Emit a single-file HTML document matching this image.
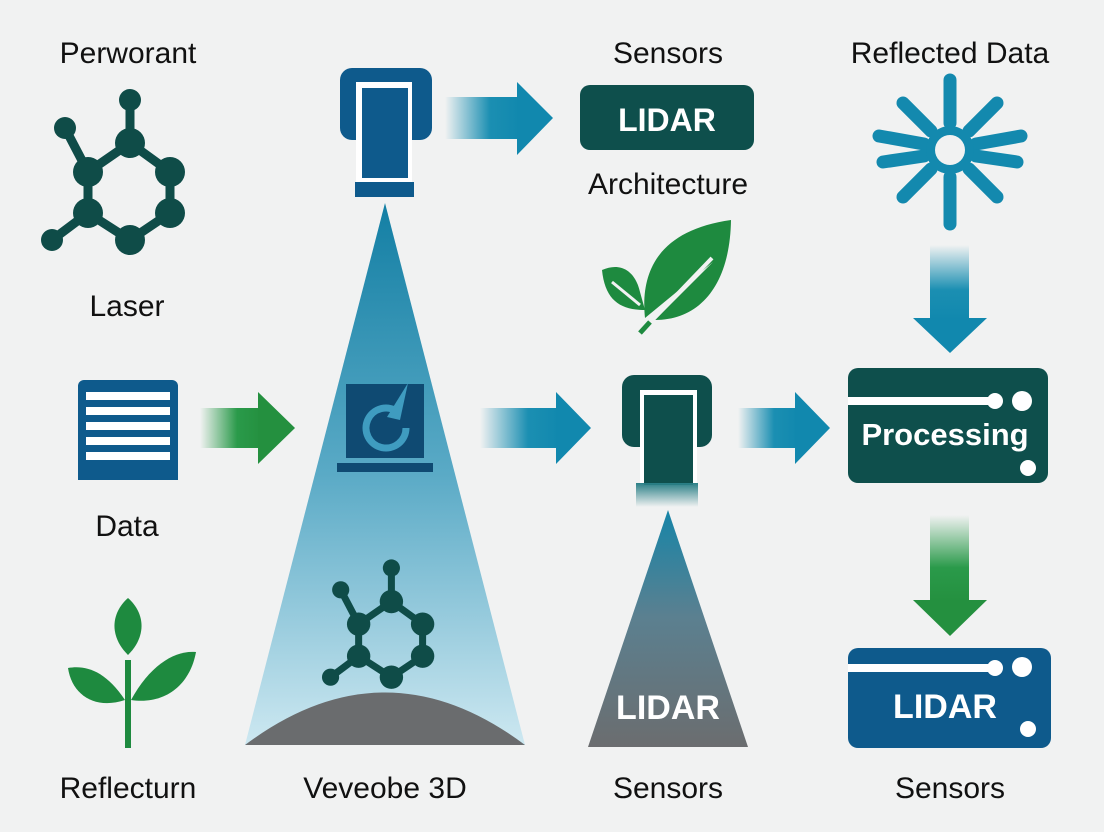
<!DOCTYPE html>
<html><head><meta charset="utf-8"><style>
html,body{margin:0;padding:0;background:#f1f2f2;}
svg{display:block}
text{font-family:"Liberation Sans","DejaVu Sans",sans-serif;}
</style></head><body>
<svg width="1104" height="832" viewBox="0 0 1104 832" xmlns="http://www.w3.org/2000/svg">
<defs>
<linearGradient id="beam" x1="0" y1="0" x2="0" y2="1"><stop offset="0" stop-color="#137fa4"/><stop offset="0.5" stop-color="#5aaac6"/><stop offset="1" stop-color="#cde8f1"/></linearGradient>
<linearGradient id="gbeam" x1="0" y1="0" x2="0" y2="1"><stop offset="0" stop-color="#1685a8"/><stop offset="0.45" stop-color="#5b8090"/><stop offset="1" stop-color="#6b6d6f"/></linearGradient>
<linearGradient id="ab" x1="0" y1="0" x2="1" y2="0"><stop offset="0" stop-color="#1b8fb2" stop-opacity="0"/><stop offset="0.6" stop-color="#1b8fb2"/><stop offset="1" stop-color="#1188ae"/></linearGradient>
<linearGradient id="ag" x1="0" y1="0" x2="1" y2="0"><stop offset="0" stop-color="#2a9a4a" stop-opacity="0"/><stop offset="0.6" stop-color="#2a9a4a"/><stop offset="1" stop-color="#24903f"/></linearGradient>
<linearGradient id="abd" x1="0" y1="0" x2="0" y2="1"><stop offset="0" stop-color="#1b8fb2" stop-opacity="0"/><stop offset="0.6" stop-color="#1b8fb2"/><stop offset="1" stop-color="#1188ae"/></linearGradient>
<linearGradient id="agd" x1="0" y1="0" x2="0" y2="1"><stop offset="0" stop-color="#2a9a4a" stop-opacity="0"/><stop offset="0.6" stop-color="#2a9a4a"/><stop offset="1" stop-color="#24903f"/></linearGradient>
<linearGradient id="bar2" x1="0" y1="0" x2="0" y2="1"><stop offset="0" stop-color="#2a7f86"/><stop offset="1" stop-color="#2a7f86" stop-opacity="0"/></linearGradient>
<g id="mol">
<g stroke="#0f4c48" stroke-width="9">
<line x1="130" y1="100" x2="130" y2="143"/><line x1="65" y1="128" x2="88" y2="172"/><line x1="52" y1="240" x2="88" y2="213"/>
<polygon points="130,143 170,172 170,213 130,240 88,213 88,172" fill="none"/>
</g>
<g fill="#0f4c48"><circle cx="130" cy="100" r="11"/><circle cx="65" cy="128" r="11"/><circle cx="52" cy="240" r="11"/>
<circle cx="130" cy="143" r="15"/><circle cx="170" cy="172" r="15"/><circle cx="170" cy="213" r="15"/><circle cx="130" cy="240" r="15"/><circle cx="88" cy="213" r="15"/><circle cx="88" cy="172" r="15"/></g>
</g>
</defs>

<g font-size="30" fill="#111" text-anchor="middle">
<text x="128" y="63">Perworant</text>
<text x="127" y="316">Laser</text>
<text x="127" y="536">Data</text>
<text x="128" y="798">Reflecturn</text>
<text x="385" y="798">Veveobe 3D</text>
<text x="668" y="63">Sensors</text>
<text x="668" y="194">Architecture</text>
<text x="950" y="63">Reflected Data</text>
<text x="668" y="798">Sensors</text>
<text x="950" y="798">Sensors</text>
</g>

<use href="#mol"/>

<rect x="340" y="68" width="92" height="72" rx="12" fill="#0e5a8c"/>
<rect x="356" y="82" width="56" height="100" fill="#fff"/>
<rect x="362" y="88" width="46" height="90" fill="#0e5a8c"/>
<rect x="355" y="182" width="59" height="15" fill="#0e5a8c"/>

<polygon points="385,203 245,745 525,745" fill="url(#beam)"/>
<path d="M245,745 Q385,640 525,745 Z" fill="#6a6c6e"/>
<rect x="346" y="384" width="78" height="74" fill="#0f4a72"/>
<rect x="337" y="463" width="96" height="9" fill="#0f4a72"/>
<path d="M398,412 A20,20 0 1 0 406,428" fill="none" stroke="#3f9cc0" stroke-width="7"/>
<polygon points="408,383 387,417 400,420" fill="#3f9cc0"/>
<g transform="translate(290,490) scale(0.78)"><use href="#mol"/></g>

<rect x="445" y="97" width="75" height="42" fill="url(#ab)"/>
<polygon points="517,82 553,118 517,155" fill="#1188ae"/>
<rect x="580" y="85" width="174" height="65" rx="10" fill="#0e4f4c"/>
<text x="667" y="131" font-size="32" font-weight="bold" fill="#fff" text-anchor="middle">LIDAR</text>

<path d="M731,220 C660,230 640,270 645,318 L713,262 L655,320 C700,320 730,285 731,220 Z" fill="#1e8a3f"/>
<path d="M602,270 C620,262 635,270 640,292 L645,310 C620,310 605,300 602,270 Z" fill="#1e8a3f"/>
<line x1="640" y1="333" x2="712" y2="258" stroke="#f1f2f2" stroke-width="4"/>
<line x1="640" y1="333" x2="650" y2="322" stroke="#1e8a3f" stroke-width="5"/>
<line x1="612" y1="282" x2="640" y2="305" stroke="#f1f2f2" stroke-width="3"/>

<rect x="78" y="380" width="100" height="100" rx="6" fill="#0e5a8c"/>
<g fill="#fff"><rect x="86" y="392" width="84" height="8"/><rect x="86" y="407" width="84" height="8"/><rect x="86" y="422" width="84" height="8"/><rect x="86" y="437" width="84" height="8"/><rect x="86" y="452" width="84" height="8"/></g>
<rect x="78" y="468" width="100" height="12" fill="#0e5a8c"/>

<rect x="200" y="408" width="62" height="40" fill="url(#ag)"/>
<polygon points="258,392 295,428 258,464" fill="#24903f"/>
<rect x="480" y="408" width="80" height="40" fill="url(#ab)"/>
<polygon points="556,392 591,428 556,464" fill="#1188ae"/>

<rect x="622" y="375" width="90" height="72" rx="12" fill="#0e4f4c"/>
<rect x="640" y="390" width="57" height="95" fill="#fff"/>
<rect x="644" y="395" width="49" height="90" fill="#0e4f4c"/>
<rect x="636" y="483" width="62" height="24" fill="url(#bar2)"/>
<polygon points="668,510 588,747 748,747" fill="url(#gbeam)"/>
<text x="668" y="719" font-size="34" font-weight="bold" fill="#fff" text-anchor="middle">LIDAR</text>

<rect x="738" y="408" width="60" height="40" fill="url(#ab)"/>
<polygon points="795,392 830,428 795,464" fill="#1188ae"/>

<g stroke="#1389ae" stroke-width="13" stroke-linecap="round">
<line x1="950" y1="123" x2="950" y2="80"/><line x1="950" y1="177" x2="950" y2="224"/>
<line x1="969" y1="131" x2="997" y2="103"/><line x1="931" y1="131" x2="903" y2="103"/>
<line x1="969" y1="169" x2="997" y2="197"/><line x1="931" y1="169" x2="903" y2="197"/>
<line x1="976" y1="144" x2="1021" y2="136"/><line x1="976" y1="156" x2="1017" y2="162"/>
<line x1="924" y1="144" x2="879" y2="136"/><line x1="924" y1="156" x2="883" y2="162"/>
</g>
<circle cx="950" cy="150" r="24" fill="#1389ae"/><circle cx="950" cy="150" r="15" fill="#f1f2f2"/>

<rect x="930" y="245" width="39" height="75" fill="url(#abd)"/>
<polygon points="913,318 987,318 950,353" fill="#1188ae"/>

<rect x="848" y="368" width="200" height="115" rx="10" fill="#0e4f4c"/>
<rect x="848" y="397" width="145" height="8" fill="#fff"/>
<circle cx="995" cy="401" r="8" fill="#fff"/><circle cx="1022" cy="401" r="10" fill="#fff"/><circle cx="1028" cy="468" r="8" fill="#fff"/>
<text x="945" y="445" font-size="31" font-weight="bold" fill="#fff" text-anchor="middle">Processing</text>

<rect x="930" y="515" width="39" height="88" fill="url(#agd)"/>
<polygon points="913,600 987,600 950,636" fill="#24903f"/>

<rect x="848" y="648" width="203" height="100" rx="10" fill="#0e5a8c"/>
<rect x="848" y="664" width="145" height="8" fill="#fff"/>
<circle cx="995" cy="668" r="8" fill="#fff"/><circle cx="1022" cy="667" r="10" fill="#fff"/><circle cx="1028" cy="729" r="8" fill="#fff"/>
<text x="945" y="718" font-size="34" font-weight="bold" fill="#fff" text-anchor="middle">LIDAR</text>

<line x1="128" y1="748" x2="128" y2="660" stroke="#1e8a3f" stroke-width="6"/>
<path d="M128,655 C108,635 112,612 128,598 C144,612 148,635 128,655 Z" fill="#1e8a3f"/>
<path d="M125,700 C105,670 85,665 68,668 C72,695 95,710 125,700 Z" fill="#1e8a3f"/>
<path d="M131,700 C150,665 175,650 196,652 C190,685 165,705 131,700 Z" fill="#1e8a3f"/>
</svg>
</body></html>
